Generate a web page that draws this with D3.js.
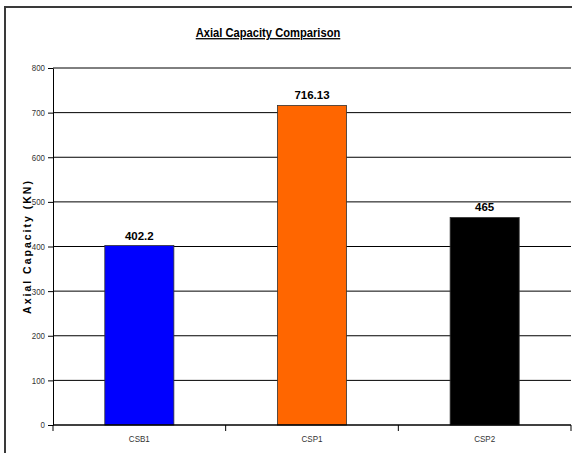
<!DOCTYPE html>
<html>
<head>
<meta charset="utf-8">
<script src="https://cdn.jsdelivr.net/npm/d3@7"></script>
<style>
  html, body { margin: 0; padding: 0; background: #fff; }
  svg { display: block; }
</style>
</head>
<body>
<script>
// Specimens and their axial capacities (KN)
const categories = ["CSB1", "CSP1", "CSP2"];
const capacities = [402.2, 716.13, 465];
const barColors = ["#0000FF", "#FF6600", "#000000"];
const yTicks = [0, 100, 200, 300, 400, 500, 600, 700, 800];

const W = 572, H = 453;
const margin = { top: 68, right: 1, bottom: 28, left: 53 };
const innerW = W - margin.left - margin.right;
const innerH = H - margin.top - margin.bottom;
const FONT = "'Liberation Sans', Arial, sans-serif";

const svg = d3.select("body").append("svg")
  .attr("width", W).attr("height", H)
  .style("font-family", FONT);

// Outer chart frame (runs off the right and bottom edges)
svg.append("rect")
  .attr("x", 5).attr("y", 7)
  .attr("width", 620).attr("height", 520)
  .attr("fill", "none").attr("stroke", "#3a3a3a").attr("stroke-width", 2);

// Title (slightly condensed, underlined)
svg.append("g").attr("transform", "translate(268,37) scale(0.86,1)")
  .append("text")
  .attr("text-anchor", "middle")
  .attr("font-size", 13).attr("font-weight", "bold")
  .attr("text-decoration", "underline")
  .attr("fill", "#000")
  .text("Axial Capacity Comparison");

const g = svg.append("g").attr("transform", `translate(${margin.left},${margin.top})`);

const x = d3.scaleBand().domain(categories).range([0, innerW]).paddingInner(0.6).paddingOuter(0.3);
const xBand = d3.scaleBand().domain(categories).range([0, innerW]);
const y = d3.scaleLinear().domain([0, 800]).range([innerH, 0]);

// Horizontal gridlines
g.append("g").selectAll("line").data(yTicks.filter(t => t > 0)).join("line")
  .attr("x1", 0).attr("x2", innerW)
  .attr("y1", d => y(d)).attr("y2", d => y(d))
  .attr("stroke", "#000").attr("stroke-width", 1);

// Bars
g.append("g").selectAll("rect").data(capacities).join("rect")
  .attr("x", (d, i) => x(categories[i]))
  .attr("y", d => y(d))
  .attr("width", x.bandwidth())
  .attr("height", d => innerH - y(d))
  .attr("fill", (d, i) => barColors[i])
  .attr("stroke", "#333").attr("stroke-width", 0.8);

// Value labels
g.append("g").selectAll("text").data(capacities).join("text")
  .attr("x", (d, i) => x(categories[i]) + x.bandwidth() / 2)
  .attr("y", d => y(d) - 6)
  .attr("text-anchor", "middle")
  .attr("font-size", 11.5).attr("font-weight", "bold")
  .attr("fill", "#000")
  .text(d => d);

// Y axis
const yAxis = g.append("g")
  .call(d3.axisLeft(y).tickValues(yTicks).tickSize(5).tickPadding(3).tickSizeOuter(0));
yAxis.select(".domain").attr("stroke", "#000").attr("stroke-width", 1);
yAxis.selectAll(".tick line").attr("stroke", "#000");
yAxis.selectAll(".tick text").attr("font-size", 9).attr("fill", "#333")
  .attr("textLength", d => String(d).length * 4.4)
  .attr("lengthAdjust", "spacingAndGlyphs")
  .style("font-family", FONT);

// X axis: baseline with tick marks at category boundaries
const xAxis = g.append("g").attr("transform", `translate(0,${innerH})`);
xAxis.append("line")
  .attr("x1", 0).attr("x2", innerW).attr("y1", 0).attr("y2", 0)
  .attr("stroke", "#000").attr("stroke-width", 1.5);
const boundaries = categories.map(c => xBand(c)).concat([innerW]);
xAxis.selectAll("line.tk").data(boundaries).join("line").attr("class", "tk")
  .attr("x1", d => d).attr("x2", d => d).attr("y1", 0).attr("y2", 6)
  .attr("stroke", "#000").attr("stroke-width", 1);
xAxis.selectAll("text").data(categories).join("text")
  .attr("x", d => xBand(d) + xBand.bandwidth() / 2)
  .attr("y", 17)
  .attr("text-anchor", "middle")
  .attr("font-size", 9).attr("fill", "#333")
  .attr("textLength", 21)
  .attr("lengthAdjust", "spacingAndGlyphs")
  .text(d => d);

// Y axis title
svg.append("text")
  .attr("transform", `translate(31,${margin.top + innerH / 2}) rotate(-90)`)
  .attr("text-anchor", "middle")
  .attr("font-size", 10.5).attr("font-weight", "bold")
  .attr("letter-spacing", 2)
  .attr("fill", "#000")
  .text("Axial Capacity  (KN)");
</script>
</body>
</html>
